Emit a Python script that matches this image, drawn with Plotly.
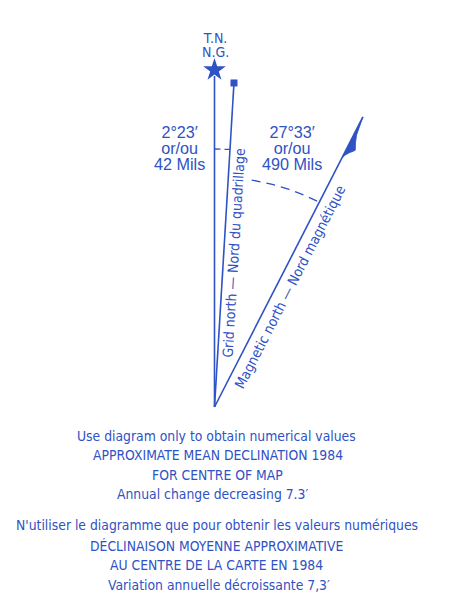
import math
import plotly.graph_objects as go

# ---------------- data ----------------
north_names = ["True north", "Grid north", "Magnetic north"]
drawn_angle_deg = [0.0, 3.44, 27.1]          # directions as drawn (diagram not to scale)
drawn_length = [337.0, 324.6, 325.8]         # diagram units from the base point
declination_text = ["2°23′", "27°33′"]
or_text = ["or/ou", "or/ou"]
mils_text = ["42 Mils", "490 Mils"]
line_labels = ["Grid north — Nord du quadrillage", "Magnetic north — Nord magnétique"]
top_labels = ["T.N.", "N.G."]
notes_en = ["Use diagram only to obtain numerical values",
            "APPROXIMATE MEAN DECLINATION 1984",
            "FOR CENTRE OF MAP",
            "Annual change decreasing 7.3′"]
notes_fr = ["N'utiliser le diagramme que pour obtenir les valeurs numériques",
            "DÉCLINAISON MOYENNE APPROXIMATIVE",
            "AU CENTRE DE LA CARTE EN 1984",
            "Variation annuelle décroissante 7,3′"]

# ---------------- style ----------------
BLUE = "#2f52c4"
COND = "DejaVu Sans Condensed, Liberation Sans Narrow, sans-serif"
REG = "Liberation Sans, Arial, sans-serif"


def pt(r, deg):
    a = math.radians(deg)
    return r * math.sin(a), r * math.cos(a)


def unit(deg):
    a = math.radians(deg)
    return (math.sin(a), math.cos(a)), (math.cos(a), -math.sin(a))


fig = go.Figure()

# north lines
for name, ang, ln in zip(north_names, drawn_angle_deg, drawn_length):
    end = ln - 6 if name == "True north" else ln
    x1, y1 = pt(end, ang)
    fig.add_trace(go.Scatter(x=[0, x1], y=[0, y1], mode="lines",
                             line=dict(color=BLUE, width=1.6), hoverinfo="skip"))

# star for true north
sx, sy = pt(drawn_length[0], drawn_angle_deg[0])
fig.add_trace(go.Scatter(x=[sx], y=[sy], mode="markers",
                         marker=dict(symbol="star", size=17, color=BLUE), hoverinfo="skip"))
# square for grid north
gx, gy = pt(drawn_length[1], drawn_angle_deg[1])
fig.add_trace(go.Scatter(x=[gx], y=[gy], mode="markers",
                         marker=dict(symbol="square", size=7, color=BLUE), hoverinfo="skip"))

# half arrowhead for magnetic north
(ux, uy), (nx, ny) = unit(drawn_angle_deg[2])
tx, ty = pt(drawn_length[2], drawn_angle_deg[2])
head = [(0, 0), (10, 1.0), (19, 2.6), (26, 5.0), (31, 7.8), (33, 8.3), (35, 7.0),
        (38, 4.2), (42, 1.6), (46, 0.2), (46, 0)]
hx = [tx - s * ux + p * nx for s, p in head]
hy = [ty - s * uy + p * ny for s, p in head]
fig.add_trace(go.Scatter(x=hx, y=hy, mode="lines", fill="toself", fillcolor=BLUE,
                         line=dict(color=BLUE, width=0.8), hoverinfo="skip"))

# dashed arcs
def arc(r, a0, a1, n=60):
    xs, ys = [], []
    for i in range(n + 1):
        x, y = pt(r, a0 + (a1 - a0) * i / n)
        xs.append(x)
        ys.append(y)
    return xs, ys

ax1, ay1 = arc(258, drawn_angle_deg[0], drawn_angle_deg[1], 10)
fig.add_trace(go.Scatter(x=ax1, y=ay1, mode="lines",
                         line=dict(color=BLUE, width=1.3, dash="6px,4px"), hoverinfo="skip"))
ax2, ay2 = arc(230, 9.3, drawn_angle_deg[2] - 0.3)
fig.add_trace(go.Scatter(x=ax2, y=ay2, mode="lines",
                         line=dict(color=BLUE, width=1.3, dash="9px,6px"), hoverinfo="skip"))

annotations = []

def txt(x, y, s, size, family=COND, angle=0):
    annotations.append(dict(x=x, y=y, xref="x", yref="y", text=s, showarrow=False,
                            xanchor="center", yanchor="middle", textangle=angle,
                            font=dict(family=family, size=size, color=BLUE)))


def stacked(lines, glyph_px, pitch_px):
    # tight stack: line pitch follows the base font (1.3 em), glyphs are drawn larger
    base = pitch_px / 1.3
    body = "<br>".join(f"<span style='font-size:{glyph_px}px'>{s}</span>" for s in lines)
    return body, base


# top labels
body, base = stacked(top_labels, 14, 13.5)
txt(0.5, 361.75, body, base)

# angle labels
group_x = [-35.0, 77.5]
for gxp, a, b, c in zip(group_x, declination_text, or_text, mils_text):
    body, base = stacked([a, b, c], 16.2, 15.8)
    txt(gxp, 258.7, body, base, REG)

# labels along lines
for lbl, ang, s, p in zip(line_labels, drawn_angle_deg[1:], [154.9, 141.2], [10.0, 12.5]):
    (ux2, uy2), (nx2, ny2) = unit(ang)
    txt(s * ux2 + p * nx2, s * uy2 + p * ny2, lbl, 14, COND, -(90 - ang))

# notes
en_y = [436, 455, 475, 494]
fr_y = [525, 546, 565, 585]
en_x = [216, 218, 217, 212]
fr_x = [217, 216, 216, 219]
for s, yy, xx in zip(notes_en, en_y, en_x):
    txt(xx - 214.5, 407 - yy, s, 13.8)
for s, yy, xx in zip(notes_fr, fr_y, fr_x):
    txt(xx - 214.5, 407 - yy, s, 13.8)

fig.update_layout(
    width=453, height=609, margin=dict(l=0, r=0, t=0, b=0),
    paper_bgcolor="white", plot_bgcolor="white", showlegend=False,
    xaxis=dict(range=[-214.5, 238.5], visible=False, fixedrange=True),
    yaxis=dict(range=[-202, 407], visible=False, fixedrange=True),
    annotations=annotations,
)

fig.write_html("out.html", config={"displayModeBar": False},
               post_script="document.body.style.margin='0';")
